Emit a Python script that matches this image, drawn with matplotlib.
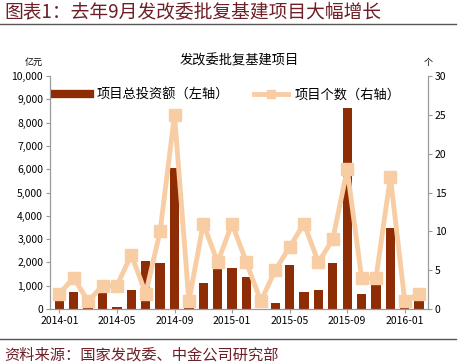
import matplotlib.pyplot as plt
import matplotlib.ticker as mticker
from matplotlib.lines import Line2D
import numpy as np

plt.rcParams['font.family'] = ['Noto Sans CJK SC', 'DejaVu Sans']

months = ['2014-01', '2014-02', '2014-03', '2014-04', '2014-05', '2014-06',
          '2014-07', '2014-08', '2014-09', '2014-10', '2014-11', '2014-12',
          '2015-01', '2015-02', '2015-03', '2015-04', '2015-05', '2015-06',
          '2015-07', '2015-08', '2015-09', '2015-10', '2015-11', '2015-12',
          '2016-01', '2016-02']
invest = [430, 730, 30, 760, 100, 800, 2060, 1960, 6050, 100, 1130, 2330,
          1770, 1370, 0, 270, 1870, 740, 810, 1960, 8640, 630, 1100, 3500,
          70, 420]
counts = [2, 4, 1, 3, 3, 7, 2, 10, 25, 1, 11, 6, 11, 6, 1, 5, 8, 11, 6, 9,
          18, 4, 4, 17, 1, 2]

bar_color = '#8e2c06'
line_color = '#f8cda3'
title_color = '#6e1f27'

x = np.arange(len(months))

fig = plt.figure(figsize=(4.63, 3.64), dpi=100)
ax = fig.add_axes([0.108, 0.151, 0.816, 0.640])
ax2 = ax.twinx()

ax.bar(x, invest, width=0.65, color=bar_color, zorder=2)
ax2.plot(x, counts, color=line_color, lw=3.5, marker='s', markersize=8, zorder=3)

ax.set_zorder(1)
ax2.set_zorder(2)
ax.patch.set_visible(False)

ax.set_xlim(-0.65, 25.6)
ax.set_ylim(0, 10000)
ax2.set_ylim(0, 30)
ax.set_yticks(np.arange(0, 10001, 1000))
ax.yaxis.set_major_formatter(mticker.FuncFormatter(lambda v, p: f'{int(v):,}'))
ax2.set_yticks(np.arange(0, 31, 5))
ax.set_xticks(x[::4])
ax.set_xticklabels(months[::4])

for a in (ax, ax2):
    a.spines['top'].set_visible(False)
    for s in ('left', 'right', 'bottom'):
        a.spines[s].set_color('#9a9a9a')
        a.spines[s].set_linewidth(0.8)
    a.tick_params(labelsize=7.5, length=3, color='#9a9a9a', pad=2)

ax.text(-0.02, 1.04, '亿元', transform=ax.transAxes, fontsize=6.5, ha='right', va='bottom')
ax2.text(1.0, 1.04, '个', transform=ax.transAxes, fontsize=6.5, ha='center', va='bottom')
ax.set_title('发改委批复基建项目', fontsize=9.5, pad=8)

handles = [Line2D([], [], color=bar_color, lw=6),
           Line2D([], [], color=line_color, lw=3.5, marker='s', markersize=6)]
ax.legend(handles, ['项目总投资额（左轴）', '项目个数（右轴）'], ncol=2,
          loc='upper left', bbox_to_anchor=(0.0, 0.97), frameon=False,
          fontsize=9.5, handlelength=2.6, columnspacing=1.9, borderaxespad=0,
          handletextpad=0.5)

fig.text(0.01, 0.966, '图表1：去年9月发改委批复基建项目大幅增长', fontsize=13.5,
         color=title_color, ha='left', va='center', style='italic')
fig.add_artist(Line2D([0.0, 0.985], [0.933, 0.933], color='#555555', lw=1.0))
fig.add_artist(Line2D([0.0, 0.985], [0.069, 0.069], color='#555555', lw=1.0))
fig.text(0.01, 0.025, '资料来源：国家发改委、中金公司研究部', fontsize=11,
         color=title_color, ha='left', va='center', style='italic')

plt.savefig('out.png', dpi=100)
